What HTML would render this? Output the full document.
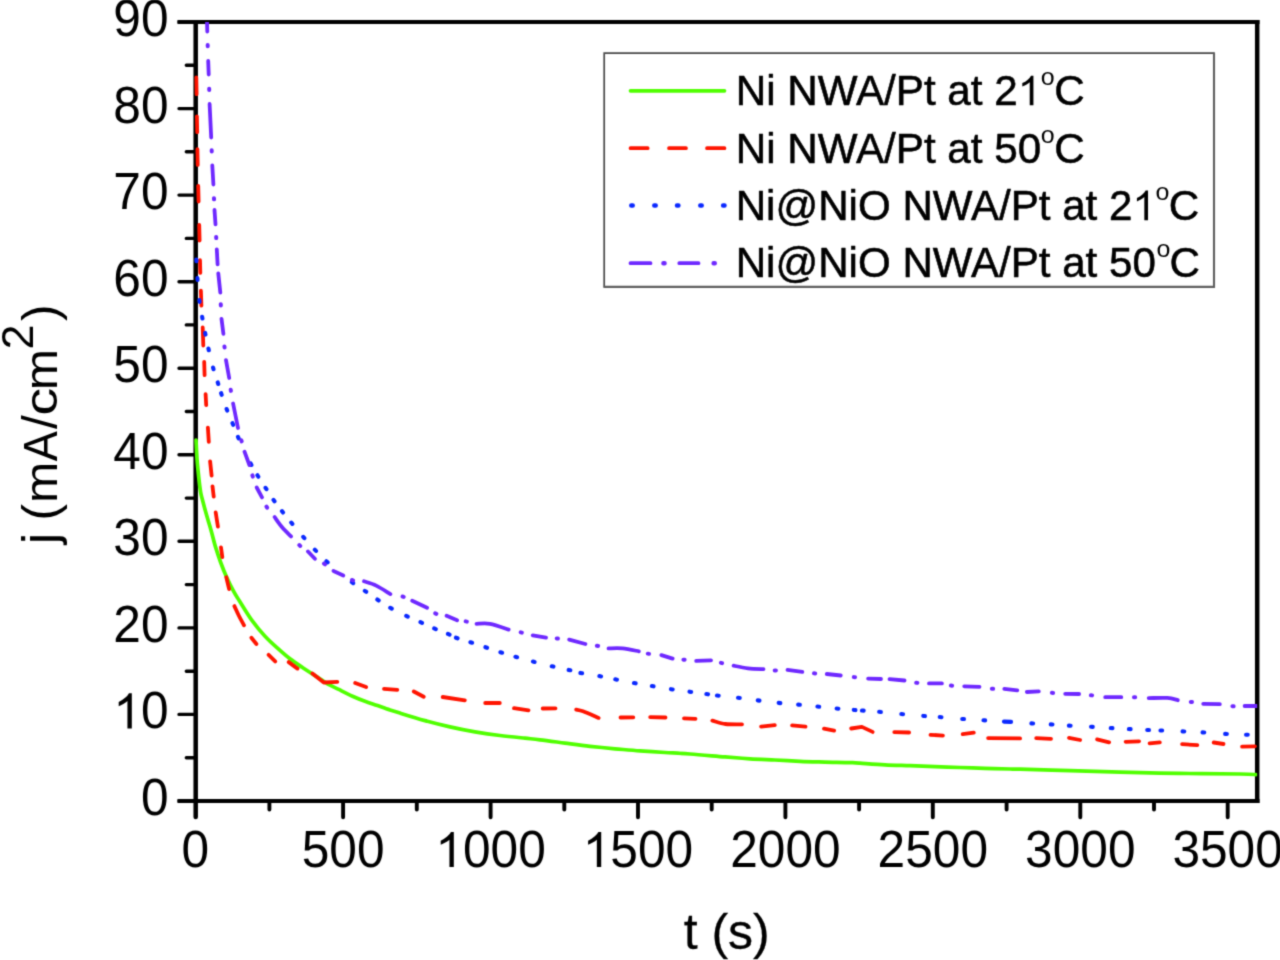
<!DOCTYPE html>
<html><head><meta charset="utf-8"><title>chart</title>
<style>html,body{margin:0;padding:0;background:#fff;}body{width:1280px;height:960px;overflow:hidden;}svg{display:block;}text{font-family:"Liberation Sans",sans-serif;fill:#000;}</style></head><body>
<svg width="1280" height="960" viewBox="0 0 1280 960">
<rect x="0" y="0" width="1280" height="960" fill="#fff"/>
<g filter="url(#soft)">
<defs><filter id="soft" x="0" y="0" width="1280" height="960" filterUnits="userSpaceOnUse" color-interpolation-filters="sRGB"><feConvolveMatrix order="5" kernelMatrix="0.0000 0.0004 0.0017 0.0004 0.0000 0.0004 0.0274 0.1099 0.0274 0.0004 0.0017 0.1099 0.4407 0.1099 0.0017 0.0004 0.0274 0.1099 0.0274 0.0004 0.0000 0.0004 0.0017 0.0004 0.0000" divisor="1" edgeMode="none" preserveAlpha="false"/></filter><clipPath id="plot"><rect x="194.1" y="22" width="1063.1" height="779"/></clipPath></defs>
<g stroke="#000" fill="none" stroke-linecap="butt">
<path d="M177.5 22 H1259.5" stroke-width="3.8"/>
<path d="M177.5 801 H1259.5" stroke-width="3.8"/>
<path d="M195.7 20.1 V801" stroke-width="4.5"/>
<path d="M1257.2 20.1 V802.9" stroke-width="4.5"/>
</g>
<g stroke="#000" fill="none" stroke-linecap="round">
<path d="M179 714.4 H195.7 M179 627.9 H195.7 M179 541.3 H195.7 M179 454.8 H195.7 M179 368.2 H195.7 M179 281.7 H195.7 M179 195.1 H195.7 M179 108.6 H195.7 M186.3 757.7 H195.7 M186.3 671.2 H195.7 M186.3 584.6 H195.7 M186.3 498.1 H195.7 M186.3 411.5 H195.7 M186.3 324.9 H195.7 M186.3 238.4 H195.7 M186.3 151.8 H195.7 M186.3 65.3 H195.7" stroke-width="3.4"/>
<path d="M179 22 H195.7 M179 801 H195.7" stroke-width="3.4"/>
<path d="M343.1 801 V817.3 M490.6 801 V817.3 M638 801 V817.3 M785.4 801 V817.3 M932.8 801 V817.3 M1080.3 801 V817.3 M1227.7 801 V817.3 M269.4 801 V809.6 M416.8 801 V809.6 M564.3 801 V809.6 M711.7 801 V809.6 M859.1 801 V809.6 M1006.6 801 V809.6 M1154 801 V809.6" stroke-width="3.9"/>
<path d="M195.7 801 V817" stroke-width="4.5"/>
</g>
<g clip-path="url(#plot)" fill="none">
<path d="M196 440 C196.1 442 196.4 448 196.6 452 C196.8 456 197 459.7 197.4 464 C197.8 468.3 198.3 473.3 198.8 478 C199.3 482.7 200 488.3 200.6 492 C201.2 495.7 201.5 496.1 202.5 500 C203.5 503.9 205.2 510.4 206.7 515.6 C208.2 520.8 209.9 526 211.3 531.2 C212.8 536.5 213.9 541.7 215.5 546.9 C217.1 552.1 218.8 557.3 220.7 562.5 C222.6 567.7 224.8 573.2 227 578.1 C229.2 583 231.7 587.9 233.8 591.7 C235.8 595.5 236.4 596.1 239.5 601 C242.6 605.9 248.2 615.4 252.5 621.2 C256.8 627.1 260.8 631.8 265 636.2 C269.2 640.7 273.3 644.4 277.5 648.1 C281.7 651.9 285.8 655.5 290 658.8 C294.2 662 298.3 664.7 302.5 667.5 C306.7 670.3 310.8 672.9 315 675.6 C319.2 678.3 323.5 681.5 327.5 683.8 C331.5 686 334.6 687.3 338.8 689.4 C342.9 691.5 348.1 694.3 352.5 696.2 C356.9 698.2 360.8 699.7 365 701.2 C369.2 702.8 373.3 704.1 377.5 705.6 C381.7 707.1 386.2 708.8 390 710 C393.8 711.2 394.2 711.3 400 713.1 C405.8 714.9 416.7 718.3 425 720.6 C433.3 722.9 441.7 725 450 726.9 C458.3 728.8 466.7 730.5 475 731.9 C483.3 733.3 491.7 734.5 500 735.5 C508.3 736.5 518.3 737.5 525 738.2 C531.7 738.9 533.3 738.9 540 739.8 C546.7 740.6 556.7 742 565 743.1 C573.3 744.2 581.7 745.4 590 746.3 C598.3 747.2 606.7 748 615 748.8 C623.3 749.5 631.7 750.3 640 750.9 C648.3 751.5 656.7 752 665 752.5 C673.3 753 680 753.3 690 754 C700 754.7 715 756.1 725 756.9 C735 757.7 741.7 758.2 750 758.8 C758.3 759.3 766.7 759.6 775 760 C783.3 760.4 791.7 761 800 761.4 C808.3 761.8 816.7 761.9 825 762.1 C833.3 762.3 844.2 762.4 850 762.6 C855.8 762.8 854.2 762.7 860 763.1 C865.8 763.5 876.7 764.4 885 764.8 C893.3 765.2 901.7 765.4 910 765.7 C918.3 766 926.7 766.3 935 766.6 C943.3 766.9 951.7 767.2 960 767.5 C968.3 767.8 976.7 768.1 985 768.4 C993.3 768.6 1004.2 768.9 1010 769 C1015.8 769.1 1010 768.9 1020 769.2 C1030 769.5 1053.3 770.1 1070 770.6 C1086.7 771.1 1101.7 771.6 1120 772.1 C1138.3 772.6 1160 773.1 1180 773.4 C1200 773.7 1227.3 773.8 1240 774 C1252.7 774.2 1253.3 774.5 1256 774.6" stroke="#50ff00" stroke-width="3.7" stroke-linejoin="round" stroke-linecap="round"/>
<path d="M196.3 77.5 L196.6 94.1 M196.9 116.3 L197.2 132.1 M197.4 149.2 L197.7 164.9 M198.2 185.9 L198.6 201.5 M199.2 224.9 L199.6 240.5 M200 260.2 L200.3 272.9 M200.9 290.7 L201.4 305.7 M202.7 327.5 L203.3 345.5 M204.2 361.8 L204.6 375.2 M205.6 394.2 L206.2 405.2 M207.9 427.7 L208.8 441.9 M210.1 461.3 L211.6 475.5 M212.5 486.3 L213.7 496.5 M215.7 512.5 L217.9 526.5 M221 547.5 L222.3 557.1 M226.3 577.3 L229.1 589.1 M234.4 606.1 C235.2 607.7 237.4 612.8 239 616 C240.6 619.2 243.2 623.7 244 625.3 M251.4 637.7 L256.4 644 M268.6 654.8 L275.2 661.4 M288.7 662.1 L297.5 668.6 M312.4 673.4 L323.8 682.5 L337.3 681.8 M355.2 683 L366.1 687 M384 688.9 L397.3 689.9 M413.8 691.5 L423.7 696.8 M442.7 697 L464.8 700.3 M485.2 703 L499.8 703 M514 708.2 L528.5 710.3 M542.7 708.5 L555.5 708.3 M576.2 709.6 C577.3 709.9 579.3 709.9 583 711.3 C586.7 712.7 596 716.8 598.6 717.9 M620.5 717.5 L633.3 717.3 M650.2 717.1 L665.5 717.5 M684 718.4 L695.5 718.8 M712.3 720.6 C714.5 721.1 720.5 723.4 725.5 724 C730.5 724.6 739.3 724.3 742 724.4 M761.1 726.6 L774.8 725.2 M792.1 725.4 L805.5 726.7 M824 728.7 L834.1 730.7 M851.2 728.5 L861.9 726.9 L872.6 731.9 M894.3 732.1 L909.1 732.5 M930.5 734.8 L942.9 735.6 M962.7 734.2 L973.8 732.7 M988.1 738.1 L1020.1 738.4 M1036.2 738.2 L1051 738.9 M1069 737.8 L1080.1 740 M1097.1 739.4 L1109.1 742.4 M1125.6 741.8 L1139.1 741.3 M1149.6 743.4 L1159.8 742.3 M1182.1 744.2 L1197.3 745.1 M1213.7 742.5 L1223.5 744 M1242.1 746.6 L1255 746.3" stroke="#ff1400" stroke-width="3.8" stroke-linejoin="round" stroke-linecap="round"/>
<path d="M196.35 259.45L196.45 261.15 M197.44 278.15L197.56 279.85 M199.40 300.16L199.60 301.84 M202.15 316.86L202.45 318.54 M205.13 332.92L205.47 334.58 M208.41 348.57L208.79 350.23 M213.07 367.58L213.53 369.22 M217.74 382.39L218.26 384.01 M221.13 393.19L221.67 394.81 M226.60 409.01L227.20 410.59 M232.48 423.21L233.12 424.79 M237.95 436.83L238.65 438.37 M250.61 463.44L251.39 464.96 M257.45 475.28L258.35 476.72 M265.53 487.79L266.47 489.21 M273.51 499.91L274.49 501.29 M281.97 511.13L283.03 512.47 M291.26 522.55L292.34 523.85 M303.24 536.86L304.36 538.14 M314.81 549.69L315.99 550.91 M326.36 561.24L327.64 562.36 M351.83 582.08L353.17 583.12 M364.80 590.82L366.20 591.78 M377.29 599.53L378.71 600.47 M390.26 607.78L391.74 608.62 M406.23 615.89L407.77 616.61 M420.47 622.15L422.03 622.85 M434.22 628.42L435.78 629.08 M447.97 633.92L449.53 634.58 M455.95 637.71L457.55 638.29 M470.44 642.24L472.06 642.76 M485.44 647.23L487.06 647.77 M500.44 652.24L502.06 652.76 M515.43 656.77L517.07 657.23 M532.93 661.54L534.57 661.96 M551.77 666.21L553.43 666.59 M568.67 669.91L570.33 670.29 M580.42 672.93L582.08 673.27 M599.36 676.10L601.04 676.40 M615.27 679.33L616.93 679.67 M633.96 683.05L635.64 683.35 M651.86 686.06L653.54 686.34 M670.96 689.17L672.64 689.43 M689.46 691.68L691.14 691.92 M706.36 694.08L708.04 694.32 M716.96 695.50L718.64 695.70 M738.06 697.80L739.74 698.00 M757.76 700.39L759.44 700.61 M778.65 702.91L780.35 703.09 M798.15 704.62L799.85 704.78 M817.45 706.51L819.15 706.69 M836.65 708.52L838.35 708.68 M853.75 709.93L855.45 710.07 M861.95 710.54L863.65 710.66 M879.15 711.82L880.85 711.98 M901.35 714.02L903.05 714.18 M923.25 715.93L924.95 716.07 M939.75 717.03L941.45 717.17 M962.25 718.94L963.95 719.06 M983.45 720.25L985.15 720.35 M1031.40 723.35L1033.10 723.45 M1050.75 724.35L1052.45 724.45 M1068.90 725.65L1070.60 725.75 M1091.05 726.75L1092.75 726.85 M1110.75 728.05L1112.45 728.15 M1128.90 729.06L1130.60 729.14 M1147.25 729.96L1148.95 730.04 M1160.45 730.47L1162.15 730.53 M1182.55 731.36L1184.25 731.44 M1202.55 732.35L1204.25 732.45 M1225.15 733.85L1226.85 733.95 M1246.05 734.72L1247.75 734.78" stroke="#0a28ff" stroke-width="4.1" stroke-linecap="round"/>
<path d="M1004 721.6 L1011 721.9" stroke="#0a28ff" stroke-width="4.2" stroke-linecap="round"/>
<path d="M206.9 18 L207.3 31.5 M208.2 61 L208.7 74.5 M209.6 104 L211.2 137.5 M212.3 165.5 L213.4 184.5 M214.5 210 L215.5 224.3 M216.8 249.3 L217.6 264.3 M218.3 273.5 L220.3 292.5 M221.5 318.8 L223.4 333.8 M226 360.2 L229.2 378 M233.1 403.5 L238 428 M244.5 451.7 L249.4 465 M256.7 487.5 L262 497.4 M274.6 517 C275.8 518.7 279.2 523.9 281.9 527.1 C284.6 530.3 289.5 534.9 291 536.4 M308 551.5 L314.9 558.8 M333.5 570.9 L343.3 575.4 M364 581.3 C366 582 371.9 583.5 376.2 585.6 C380.6 587.7 388 592.7 390.4 594.1 M412.2 600.8 L427.1 607.8 M446.6 615.7 L457.1 620.3 M476.5 623.8 C478.8 623.8 484.6 622.8 490 623.8 C495.4 624.7 505.5 628.6 508.6 629.6 M532.7 635.3 L546 637.6 M569.2 639.6 L585.4 644 M608.5 648.4 C610.8 648.4 617.5 647.9 622.5 648.4 C627.5 648.9 636.1 650.8 638.8 651.3 M661.4 655.1 L672.6 658.6 M696.2 660.9 L711 660.4 M733.6 665.7 C736 666.2 743 667.8 748 668.4 C753 669 760.9 669.1 763.5 669.2 M787.5 669.9 L802.3 671.9 M826.8 674 L840.7 675.5 M868.1 678.7 L881 679 M889.5 679.1 L904.5 680.5 M929 683.4 L941.9 683.4 M964.2 686.3 L979.5 686.8 M1004.3 688.9 L1017.3 690.4 M1026.8 692 L1038.8 691.3 M1065.2 693.8 L1079.1 694 M1105.2 697.2 L1121.3 697.2 M1148.7 698.1 C1151.8 698.1 1162.5 697.5 1167.3 697.9 C1172.1 698.2 1176 699.8 1177.8 700.2 M1203.2 703.8 L1219.8 704.1 M1244.6 706 L1257 706" stroke="#6e28ff" stroke-width="3.8" stroke-linejoin="round" stroke-linecap="round"/>
<path d="M207.68 45.00L207.72 46.20 M209.18 88.80L209.22 90.00 M211.68 150.20L211.72 151.40 M213.97 198.15L214.03 199.35 M216.17 236.90L216.23 238.10 M220.77 304.20L220.83 305.40 M224.44 346.40L224.56 347.60 M230.71 389.71L230.89 390.89 M241.34 440.22L241.66 441.38 M252.41 475.43L252.79 476.57 M266.48 506.70L267.12 507.70 M299.35 545.10L300.25 545.90 M324.00 563.67L325.00 564.33 M351.92 580.04L353.08 580.36 M402.53 596.52L403.67 596.88 M435.24 613.37L436.36 613.83 M465.66 621.39L466.84 621.61 M520.67 632.36L521.83 632.64 M556.70 638.45L557.90 638.55 M596.91 645.69L598.09 645.91 M647.81 653.65L648.99 653.85 M683.40 659.69L684.60 659.81 M720.92 662.86L722.08 663.14 M774.70 670.38L775.90 670.42 M814.00 673.35L815.20 673.45 M853.80 677.13L855.00 677.27 M916.20 682.73L917.40 682.87 M950.91 685.52L952.09 685.68 M991.90 688.75L993.10 688.85 M1051.90 692.84L1053.10 692.96 M1090.90 695.23L1092.10 695.37 M1134.00 697.18L1135.20 697.22 M1190.81 701.92L1191.99 702.08 M1232.40 706.15L1233.60 706.25" stroke="#6e28ff" stroke-width="4.0" stroke-linecap="round"/>
</g>
<rect x="604.2" y="53.1" width="609.8" height="233.8" fill="#fff" stroke="none"/>
<path d="M604.2 287.5 V53.1 H1214.6" fill="none" stroke="#484848" stroke-width="1.7"/>
<path d="M1214 52.5 V286.9 H603.6" fill="none" stroke="#5e5e5e" stroke-width="2.1"/>
<g fill="none" stroke-linecap="round">
<path d="M630.5 90.8 H724.5" stroke="#50ff00" stroke-width="3.7"/>
<path d="M630.5 148.2 H647.7 M669 148.2 H686 M707 148.2 H724.5" stroke="#ff1400" stroke-width="3.7"/>
<path d="M631.3 205.6 h1.4 M654.3 205.6 h1.4 M677 205.6 h1.4 M700.3 205.6 h1.4 M723.1 205.6 h1.4" stroke="#0a28ff" stroke-width="4.5"/>
<path d="M630.5 263.2 H650.5 M679.3 263.2 H698.5" stroke="#6e28ff" stroke-width="3.8"/>
<path d="M663.4 263.2 h1.2 M713.6 263.2 h1.2" stroke="#6e28ff" stroke-width="4.4"/>
</g>
<g stroke="#000" stroke-width="0.55" stroke-linejoin="round">
<g transform="translate(735.7 105.3) scale(1.024 1)"><text font-size="41.2" transform="scale(1 1.037)">Ni NWA/Pt at 2</text><path d="M763 0H583V1147Q518 1085 412.5 1023Q307 961 223 930V1104Q374 1175 487 1276Q600 1377 647 1472H763Z" transform="translate(275.4 0) scale(0.02012 -0.02012)"/></g>
<text transform="translate(1047.8 85.3) scale(1 0.95)" font-size="25" text-anchor="middle" stroke="none">o</text>
<text transform="translate(1054.3 105.3) scale(1.024 1.037)" font-size="41.2">C</text>
<g transform="translate(735.7 162.6) scale(1.024 1)"><text font-size="41.2" transform="scale(1 1.037)">Ni NWA/Pt at 50</text></g>
<text transform="translate(1047.8 142.6) scale(1 0.95)" font-size="25" text-anchor="middle" stroke="none">o</text>
<text transform="translate(1054.3 162.6) scale(1.024 1.037)" font-size="41.2">C</text>
<g transform="translate(735.7 220.2) scale(1.022 1)"><text font-size="41.2" transform="scale(1 1.037)">Ni@NiO NWA/Pt at 2</text><path d="M763 0H583V1147Q518 1085 412.5 1023Q307 961 223 930V1104Q374 1175 487 1276Q600 1377 647 1472H763Z" transform="translate(388.1 0) scale(0.02012 -0.02012)"/></g>
<text transform="translate(1162.4 200.2) scale(1 0.95)" font-size="25" text-anchor="middle" stroke="none">o</text>
<text transform="translate(1168.8 220.2) scale(1.024 1.037)" font-size="41.2">C</text>
<g transform="translate(735.7 277.3) scale(1.022 1)"><text font-size="41.2" transform="scale(1 1.037)">Ni@NiO NWA/Pt at 50</text></g>
<text transform="translate(1163.4 257.3) scale(1 0.95)" font-size="25" text-anchor="middle" stroke="none">o</text>
<text transform="translate(1169.4 277.3) scale(1.024 1.037)" font-size="41.2">C</text>
</g>
<g transform="translate(141 815) scale(0.974 1)"><text font-size="51.0" x="0">0</text></g>
<g transform="translate(113.3 728.4) scale(0.974 1)"><path d="M763 0H583V1147Q518 1085 412.5 1023Q307 961 223 930V1104Q374 1175 487 1276Q600 1377 647 1472H763Z" transform="translate(0 0) scale(0.02490 -0.02393)"/><text font-size="51.0" x="28.4">0</text></g>
<g transform="translate(113.3 641.9) scale(0.974 1)"><text font-size="51.0" x="0 28.4">20</text></g>
<g transform="translate(113.3 555.3) scale(0.974 1)"><text font-size="51.0" x="0 28.4">30</text></g>
<g transform="translate(113.3 468.8) scale(0.974 1)"><text font-size="51.0" x="0 28.4">40</text></g>
<g transform="translate(113.3 382.2) scale(0.974 1)"><text font-size="51.0" x="0 28.4">50</text></g>
<g transform="translate(113.3 295.7) scale(0.974 1)"><text font-size="51.0" x="0 28.4">60</text></g>
<g transform="translate(113.3 209.1) scale(0.974 1)"><text font-size="51.0" x="0 28.4">70</text></g>
<g transform="translate(113.3 122.6) scale(0.974 1)"><text font-size="51.0" x="0 28.4">80</text></g>
<g transform="translate(113.3 36) scale(0.974 1)"><text font-size="51.0" x="0 28.4">90</text></g>
<g transform="translate(181.4 867.1) scale(0.974 1)"><text font-size="51.0" x="0">0</text></g>
<g transform="translate(301.7 867.1) scale(0.974 1)"><text font-size="51.0" x="0 28.4 56.7">500</text></g>
<g transform="translate(435.3 867.1) scale(0.974 1)"><path d="M763 0H583V1147Q518 1085 412.5 1023Q307 961 223 930V1104Q374 1175 487 1276Q600 1377 647 1472H763Z" transform="translate(0 0) scale(0.02490 -0.02393)"/><text font-size="51.0" x="28.4">0</text><text font-size="51.0" x="56.7">0</text><text font-size="51.0" x="85.1">0</text></g>
<g transform="translate(582.7 867.1) scale(0.974 1)"><path d="M763 0H583V1147Q518 1085 412.5 1023Q307 961 223 930V1104Q374 1175 487 1276Q600 1377 647 1472H763Z" transform="translate(0 0) scale(0.02490 -0.02393)"/><text font-size="51.0" x="28.4">5</text><text font-size="51.0" x="56.7">0</text><text font-size="51.0" x="85.1">0</text></g>
<g transform="translate(730.2 867.1) scale(0.974 1)"><text font-size="51.0" x="0 28.4 56.7 85.1">2000</text></g>
<g transform="translate(877.6 867.1) scale(0.974 1)"><text font-size="51.0" x="0 28.4 56.7 85.1">2500</text></g>
<g transform="translate(1025 867.1) scale(0.974 1)"><text font-size="51.0" x="0 28.4 56.7 85.1">3000</text></g>
<g transform="translate(1172.4 867.1) scale(0.974 1)"><text font-size="51.0" x="0 28.4 56.7 85.1">3500</text></g>
<text x="726.7" y="948.8" font-size="50" text-anchor="middle" stroke="#000" stroke-width="0.3">t (s)</text>
<g transform="translate(57.1 547) rotate(-90)" font-size="49.5"><text transform="translate(3 0) scale(1 1)">j</text><text transform="translate(26.4 0) scale(1 1)">(</text><text transform="translate(44.1 0) scale(1 0.925)">m</text><text transform="translate(85.8 0) scale(0.915 0.954)">A</text><text transform="translate(118 0) scale(1 1)">/</text><text transform="translate(131.4 0) scale(1.12 0.925)">c</text><text transform="translate(156.7 0) scale(1 0.925)">m</text><text transform="translate(225.9 0) scale(1 1)">)</text></g>
<g transform="translate(32.8 547) rotate(-90)"><text font-size="45" x="197.5">2</text></g>
</g>
</svg></body></html>
